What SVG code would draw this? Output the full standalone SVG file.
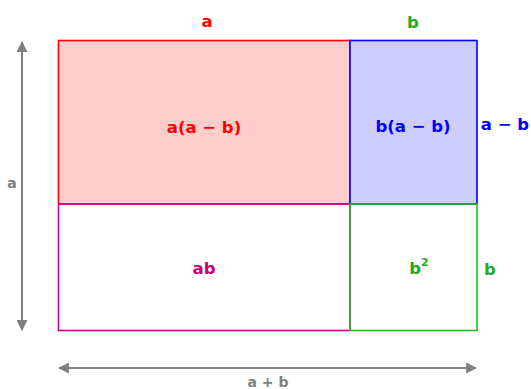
<svg xmlns="http://www.w3.org/2000/svg" width="531" height="389" viewBox="0 0 531 389">
<style>
text{font-family:"DejaVu Sans","Liberation Sans",sans-serif;font-weight:bold;font-size:16.5px;text-anchor:middle;dominant-baseline:central}
.dim{stroke:#808080;stroke-width:2;fill:none}
.gray{fill:#808080;font-size:14px}
</style>
<defs>
<marker id="ah" viewBox="0 0 10 10" refX="9" refY="5" markerWidth="5.5" markerHeight="5.5" orient="auto-start-reverse" markerUnits="strokeWidth">
<path d="M0,0 L10,5 L0,10 Z" fill="#808080"/>
</marker>
</defs>
<g id="connectors">
<line class="dim" x1="22" y1="42" x2="22" y2="330" marker-start="url(#ah)" marker-end="url(#ah)"/>
<line class="dim" x1="59" y1="368" x2="476" y2="368" marker-start="url(#ah)" marker-end="url(#ah)"/>
</g>
<g id="rect-a-ab">
<rect x="58.5" y="40.5" width="291.5" height="163.5" fill="#ffcccc" stroke="#ff0000" stroke-width="1.6"/>
<text x="204" y="127" fill="#ff0000">a(a − b)</text>
</g>
<g id="rect-b-ab">
<rect x="350" y="40.5" width="127" height="163.5" fill="#ccccff" stroke="#0000ff" stroke-width="1.6"/>
<text x="413" y="126" fill="#0000ff">b(a − b)</text>
</g>
<g id="rect-ab">
<rect x="58.5" y="204" width="291.5" height="126.5" fill="none" stroke="#cc0099" stroke-width="1.6"/>
<text x="204" y="268" fill="#cc0077">ab</text>
</g>
<g id="rect-b2">
<rect x="350" y="204" width="127" height="126.5" fill="none" stroke="#22bb22" stroke-width="1.6"/>
<text x="419" y="268" fill="#22aa22">b<tspan font-size="11" dy="-6">2</tspan></text>
</g>
<g id="labels">
<text x="207" y="21" fill="#ff0000">a</text>
<text x="413" y="22" fill="#22aa22">b</text>
<text x="505" y="124" fill="#0000ff">a − b</text>
<text x="490" y="269" fill="#22aa22">b</text>
<text x="12" y="183" class="gray">a</text>
<text x="268" y="382" class="gray">a + b</text>
</g>
</svg>
